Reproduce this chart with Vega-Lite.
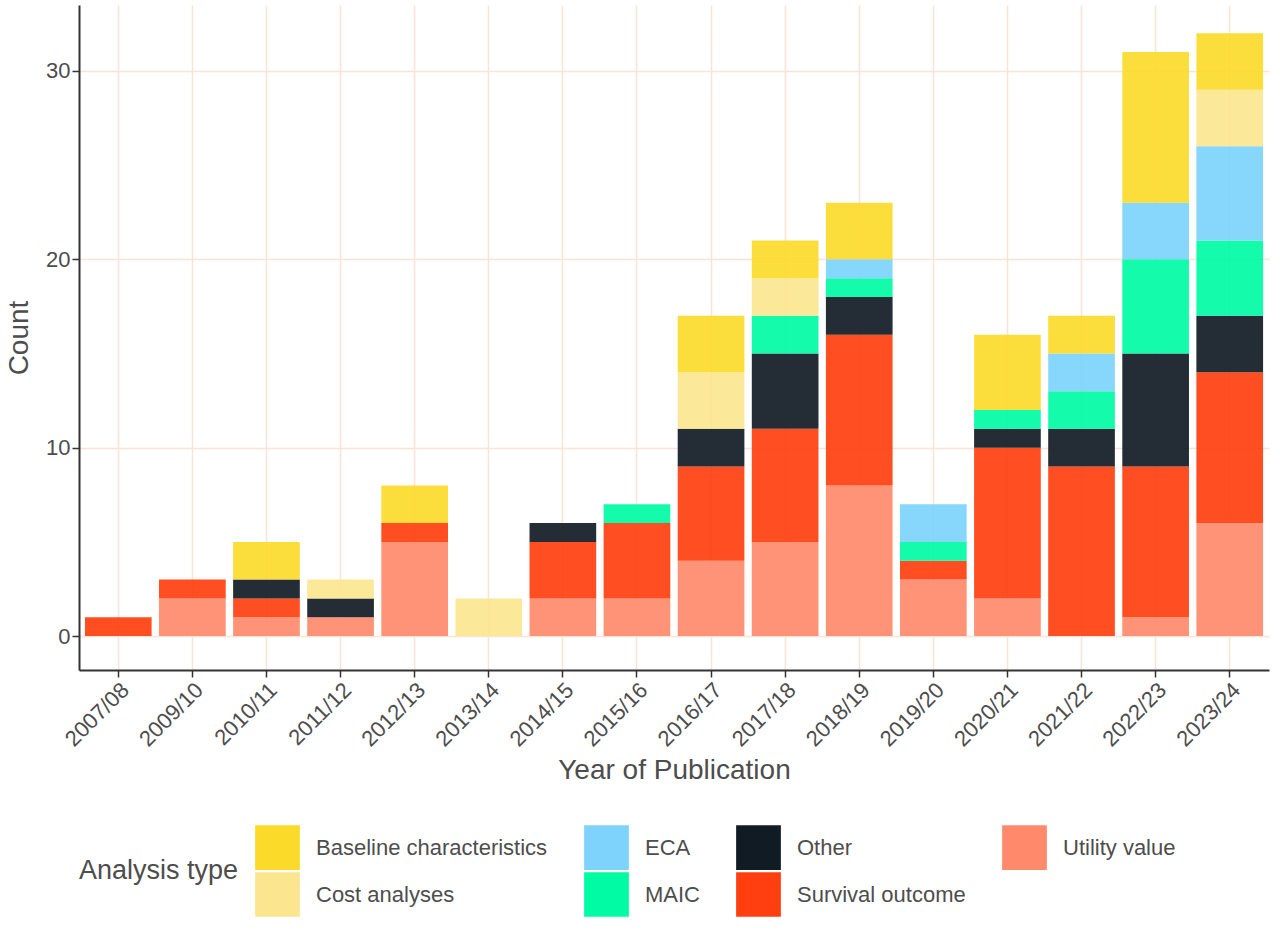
{
"$schema":"https://vega.github.io/schema/vega-lite/v6.json",
"width":1190,"height":665,
"padding":{"left":5,"top":5,"right":5,"bottom":5},
"background":"white",
"config":{"font":"Liberation Sans","view":{"stroke":null},
"axis":{"labelColor":"#4D4D4D","titleColor":"#4D4D4D","labelFontSize":22,"titleFontSize":28,"titleFontWeight":"normal","gridColor":"#FCE3D6","gridWidth":1.5,"domainColor":"#333","domainWidth":2,"tickColor":"#333","tickWidth":1.5,"tickSize":7}},
"data":{"values":[
{"y":"2007/08","t":"Survival outcome","n":1},
{"y":"2009/10","t":"Utility value","n":2},{"y":"2009/10","t":"Survival outcome","n":1},
{"y":"2010/11","t":"Utility value","n":1},{"y":"2010/11","t":"Survival outcome","n":1},{"y":"2010/11","t":"Other","n":1},{"y":"2010/11","t":"Baseline characteristics","n":2},
{"y":"2011/12","t":"Utility value","n":1},{"y":"2011/12","t":"Other","n":1},{"y":"2011/12","t":"Cost analyses","n":1},
{"y":"2012/13","t":"Utility value","n":5},{"y":"2012/13","t":"Survival outcome","n":1},{"y":"2012/13","t":"Baseline characteristics","n":2},
{"y":"2013/14","t":"Cost analyses","n":2},
{"y":"2014/15","t":"Utility value","n":2},{"y":"2014/15","t":"Survival outcome","n":3},{"y":"2014/15","t":"Other","n":1},
{"y":"2015/16","t":"Utility value","n":2},{"y":"2015/16","t":"Survival outcome","n":4},{"y":"2015/16","t":"MAIC","n":1},
{"y":"2016/17","t":"Utility value","n":4},{"y":"2016/17","t":"Survival outcome","n":5},{"y":"2016/17","t":"Other","n":2},{"y":"2016/17","t":"Cost analyses","n":3},{"y":"2016/17","t":"Baseline characteristics","n":3},
{"y":"2017/18","t":"Utility value","n":5},{"y":"2017/18","t":"Survival outcome","n":6},{"y":"2017/18","t":"Other","n":4},{"y":"2017/18","t":"MAIC","n":2},{"y":"2017/18","t":"Cost analyses","n":2},{"y":"2017/18","t":"Baseline characteristics","n":2},
{"y":"2018/19","t":"Utility value","n":8},{"y":"2018/19","t":"Survival outcome","n":8},{"y":"2018/19","t":"Other","n":2},{"y":"2018/19","t":"MAIC","n":1},{"y":"2018/19","t":"ECA","n":1},{"y":"2018/19","t":"Baseline characteristics","n":3},
{"y":"2019/20","t":"Utility value","n":3},{"y":"2019/20","t":"Survival outcome","n":1},{"y":"2019/20","t":"MAIC","n":1},{"y":"2019/20","t":"ECA","n":2},
{"y":"2020/21","t":"Utility value","n":2},{"y":"2020/21","t":"Survival outcome","n":8},{"y":"2020/21","t":"Other","n":1},{"y":"2020/21","t":"MAIC","n":1},{"y":"2020/21","t":"Baseline characteristics","n":4},
{"y":"2021/22","t":"Survival outcome","n":9},{"y":"2021/22","t":"Other","n":2},{"y":"2021/22","t":"MAIC","n":2},{"y":"2021/22","t":"ECA","n":2},{"y":"2021/22","t":"Baseline characteristics","n":2},
{"y":"2022/23","t":"Utility value","n":1},{"y":"2022/23","t":"Survival outcome","n":8},{"y":"2022/23","t":"Other","n":6},{"y":"2022/23","t":"MAIC","n":5},{"y":"2022/23","t":"ECA","n":3},{"y":"2022/23","t":"Baseline characteristics","n":8},
{"y":"2023/24","t":"Utility value","n":6},{"y":"2023/24","t":"Survival outcome","n":8},{"y":"2023/24","t":"Other","n":3},{"y":"2023/24","t":"MAIC","n":4},{"y":"2023/24","t":"ECA","n":5},{"y":"2023/24","t":"Cost analyses","n":3},{"y":"2023/24","t":"Baseline characteristics","n":3}
]},
"transform":[{"calculate":"indexof(['Utility value','Survival outcome','Other','MAIC','ECA','Cost analyses','Baseline characteristics'], datum.t)","as":"o"}],
"mark":{"type":"bar","opacity":0.92},
"encoding":{
"x":{"field":"y","type":"nominal","title":"Year of Publication","scale":{"paddingInner":0.1,"paddingOuter":0.08},
"axis":{"labelAngle":-45,"grid":true,"labelAlign":"right","labelBaseline":"top","titlePadding":6}},
"y":{"field":"n","type":"quantitative","aggregate":"sum","title":"Count","scale":{"domain":[-1.8,33.5],"nice":false},
"axis":{"values":[0,10,20,30],"grid":true,"titlePadding":12}},
"order":{"field":"o","type":"quantitative","sort":"ascending"},
"color":{"field":"t","type":"nominal",
"scale":{"domain":["Baseline characteristics","ECA","Other","Utility value","Cost analyses","MAIC","Survival outcome"],
"range":["#FBDA2A","#7DD3FC","#111B24","#FF8A6B","#FBE68F","#00FBA5","#FF3F0F"]},
"legend":{"orient":"bottom","direction":"horizontal","columns":4,"title":"Analysis type","titleOrient":"left","titleFontSize":27,"titleFontWeight":"normal","titleColor":"#4D4D4D","titlePadding":16,"labelFontSize":22,"labelColor":"#4D4D4D","symbolType":"square","symbolSize":2000,"symbolStrokeWidth":0,"symbolOpacity":1,"rowPadding":2,"columnPadding":36,"labelOffset":16,"offset":40,"labelLimit":300}}
}
}
